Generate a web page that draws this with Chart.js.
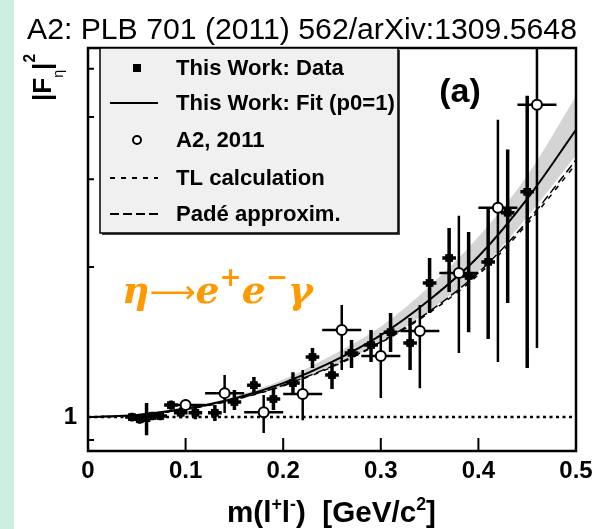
<!DOCTYPE html>
<html>
<head>
<meta charset="utf-8">
<script src="https://cdn.jsdelivr.net/npm/chart.js@4"></script>
<style>
  html, body { margin:0; padding:0; background:#fff; }
  #wrap { width:593px; height:529px; }
</style>
</head>
<body>
<div id="wrap"><canvas id="myChart" width="593" height="529"></canvas></div>
<script>
"use strict";

// curves, every 0.05 GeV
let curveX   = [0, 0.05, 0.1, 0.15, 0.2, 0.25, 0.3, 0.35, 0.4, 0.45, 0.5];
let fitY     = [1.0, 1.01, 1.04, 1.09, 1.17, 1.29, 1.46, 1.72, 2.10, 2.74, 3.77];
let bandUp   = [1.0, 1.012, 1.045, 1.10, 1.19, 1.33, 1.52, 1.83, 2.30, 3.05, 4.40];
let bandLo   = [1.0, 1.008, 1.036, 1.08, 1.155, 1.265, 1.41, 1.64, 1.96, 2.52, 3.35];
let tlY      = [1.0, 1.009, 1.036, 1.083, 1.155, 1.26, 1.41, 1.62, 1.93, 2.44, 3.22];
let padeY    = [1.0, 1.009, 1.037, 1.085, 1.158, 1.265, 1.415, 1.63, 1.95, 2.47, 3.28];

// This Work: Data
let dataX   = [0.045, 0.053, 0.06, 0.066, 0.074, 0.085, 0.095, 0.11, 0.13, 0.15, 0.17, 0.19, 0.21, 0.23, 0.25, 0.27, 0.29, 0.31, 0.33, 0.35, 0.37, 0.39, 0.41, 0.43, 0.45];
let dataY   = [1.0, 0.99, 0.995, 1.005, 1.005, 1.057, 1.02, 1.02, 1.02, 1.072, 1.159, 1.087, 1.17, 1.32, 1.214, 1.345, 1.395, 1.48, 1.408, 1.858, 2.085, 1.919, 2.048, 2.57, 2.83];
let dataLo  = [0.98, 0.97, 0.92, 0.985, 0.985, 1.035, 0.995, 0.99, 0.982, 1.033, 1.117, 1.033, 1.11, 1.254, 1.138, 1.254, 1.29, 1.351, 1.243, 1.618, 1.782, 1.48, 1.434, 1.694, 1.254];
let dataHi  = [1.02, 1.01, 1.067, 1.025, 1.025, 1.08, 1.045, 1.05, 1.057, 1.133, 1.203, 1.14, 1.23, 1.376, 1.284, 1.428, 1.495, 1.617, 1.58, 2.085, 2.396, 2.35, 2.64, 3.44, 4.41];

// A2, 2011
let a2X  = [0.10, 0.14, 0.18, 0.22, 0.26, 0.30, 0.34, 0.38, 0.42, 0.46];
let a2Y  = [1.057, 1.117, 1.023, 1.112, 1.495, 1.326, 1.488, 1.946, 2.63, 4.23];
let a2Lo = [1.03, 1.019, 0.929, 0.986, 1.243, 1.092, 1.143, 1.345, 1.29, 1.376];
let a2Hi = [1.085, 1.214, 1.107, 1.243, 1.678, 1.475, 1.678, 2.533, 3.95, 7.0];
let a2XErr = 0.02;
let dataXErr = 0.007;

let xTickVals = [0, 0.1, 0.2, 0.3, 0.4, 0.5];
let yTickVals = [0.9, 1, 2, 3, 4, 5];

let FONT = "'Liberation Sans', Arial, sans-serif";

function pts(xs, ys) { return xs.map((x, i) => ({x: x, y: ys[i]})); }

function fitFont(ctx, parts, target, base) {
    let w = 0;
    for (let p of parts) { ctx.font = p.style + " " + (p.size * base) + "px " + p.family; w += ctx.measureText(p.t).width; }
    return base * target / w;
}

function drawParts(ctx, parts, x, y, k) {
    for (let p of parts) {
        ctx.font = p.style + " " + (p.size * k) + "px " + p.family;
        ctx.fillText(p.t, x, y + (p.dy || 0) * k);
        x += ctx.measureText(p.t).width;
    }
}

let errorBars = {
    id: "errorBars",
    beforeDatasetDraw(chart, args) {
        let ds = chart.data.datasets[args.index];
        if (!ds.errLo) return;
        let sx = chart.scales.x, sy = chart.scales.y, ctx = chart.ctx, a = chart.chartArea;
        ctx.save();
        ctx.beginPath(); ctx.rect(a.left, a.top, a.right - a.left, a.bottom - a.top); ctx.clip();
        ctx.strokeStyle = "#000";
        ctx.lineWidth = ds.errWidth;
        ds.data.forEach(function (p, i) {
            let px = sx.getPixelForValue(p.x), py = sy.getPixelForValue(p.y);
            ctx.beginPath();
            ctx.moveTo(px, sy.getPixelForValue(ds.errLo[i]));
            ctx.lineTo(px, sy.getPixelForValue(ds.errHi[i]));
            ctx.moveTo(sx.getPixelForValue(p.x - ds.xErr), py);
            ctx.lineTo(sx.getPixelForValue(p.x + ds.xErr), py);
            ctx.stroke();
        });
        ctx.restore();
    }
};

let paper = {
    id: "paper",
    beforeDraw(chart) {
        let ctx = chart.ctx;
        ctx.save();
        ctx.fillStyle = "#fff"; ctx.fillRect(0, 0, chart.width, chart.height);
        ctx.fillStyle = "#cdeee0"; ctx.fillRect(0, 0, 14, chart.height);
        ctx.restore();
    },
    afterDraw(chart) {
        let ctx = chart.ctx, a = chart.chartArea, sx = chart.scales.x, sy = chart.scales.y;
        ctx.save();
        ctx.strokeStyle = "#000"; ctx.fillStyle = "#000";

        // inward ticks
        ctx.lineWidth = 2;
        ctx.beginPath();
        xTickVals.forEach(function (v) {
            if (v <= 0 || v >= 0.5) return;
            let px = sx.getPixelForValue(v);
            ctx.moveTo(px, a.bottom); ctx.lineTo(px, a.bottom - 13);
        });
        yTickVals.forEach(function (v) {
            let py = sy.getPixelForValue(v);
            ctx.moveTo(a.left, py); ctx.lineTo(a.left + (v === 1 ? 9 : 6), py);
        });
        ctx.stroke();

        // frame
        ctx.lineWidth = 2.5;
        ctx.strokeRect(a.left, a.top, a.right - a.left, a.bottom - a.top);

        // legend box
        let lx = 100, ly = a.top, lw = 298, lh = 185;
        ctx.fillStyle = "#444";
        ctx.fillRect(lx + 2, ly + 2, lw, lh);
        ctx.fillStyle = "#f0f0f0";
        ctx.fillRect(lx, ly, lw, lh);
        ctx.lineWidth = 1.5;
        ctx.strokeRect(lx, ly, lw, lh);

        let rows = [68, 103, 140, 178, 214];
        let labels = ["This Work: Data", "This Work: Fit (p0=1)", "A2, 2011", "TL calculation", "Padé approxim."];
        ctx.fillStyle = "#000";
        ctx.fillRect(133, rows[0] - 4, 8, 8);
        ctx.lineWidth = 2;
        ctx.beginPath(); ctx.moveTo(110, rows[1]); ctx.lineTo(158, rows[1]); ctx.stroke();
        ctx.beginPath(); ctx.arc(137, rows[2], 4, 0, 2 * Math.PI); ctx.fillStyle = "#fff"; ctx.fill(); ctx.stroke();
        ctx.lineWidth = 1.8;
        ctx.setLineDash([5, 6]);
        ctx.beginPath(); ctx.moveTo(110, rows[3]); ctx.lineTo(158, rows[3]); ctx.stroke();
        ctx.setLineDash([9, 4]);
        ctx.beginPath(); ctx.moveTo(110, rows[4]); ctx.lineTo(158, rows[4]); ctx.stroke();
        ctx.setLineDash([]);
        ctx.fillStyle = "#000";
        ctx.textBaseline = "middle";
        let lk = fitFont(ctx, [{t: labels[1], style: "bold", size: 1, family: FONT}], 219, 20);
        ctx.font = "bold " + lk + "px " + FONT;
        labels.forEach(function (t, i) { ctx.fillText(t, 176, rows[i] + 1); });

        // (a)
        ctx.textAlign = "center";
        ctx.font = "bold 34px " + FONT;
        ctx.fillText("(a)", 460, 93);

        // title
        ctx.textAlign = "left";
        ctx.textBaseline = "alphabetic";
        let title = [{t: "A2: PLB 701 (2011) 562/arXiv:1309.5648", style: "normal", size: 1, family: FONT}];
        let k = fitFont(ctx, title, 550, 28);
        drawParts(ctx, title, 27, 39, k);

        // x axis title
        let xl = [
            {t: "m(l", style: "bold", size: 1, family: FONT},
            {t: "+", style: "bold", size: 0.6, family: FONT, dy: -0.4},
            {t: "l", style: "bold", size: 1, family: FONT},
            {t: "-", style: "bold", size: 0.6, family: FONT, dy: -0.4},
            {t: ")  [GeV/c", style: "bold", size: 1, family: FONT},
            {t: "2", style: "bold", size: 0.6, family: FONT, dy: -0.4},
            {t: "]", style: "bold", size: 1, family: FONT}
        ];
        k = fitFont(ctx, xl, 209, 26);
        drawParts(ctx, xl, 227, 522, k);

        // y axis title, rotated
        ctx.save();
        ctx.translate(51, 101);
        ctx.rotate(-Math.PI / 2);
        let yl = [
            {t: "|F", style: "bold", size: 1, family: FONT},
            {t: "η", style: "normal", size: 0.55, family: FONT, dy: 0.45},
            {t: "|", style: "bold", size: 1, family: FONT},
            {t: "2", style: "bold", size: 0.6, family: FONT, dy: -0.62}
        ];
        drawParts(ctx, yl, 0, 0, 26);
        ctx.restore();

        // reaction
        ctx.fillStyle = "#ff9900";
        let re = [
            {t: "η", style: "italic bold", size: 1, family: "'DejaVu Serif', serif"},
            {t: "⟶", style: "normal", size: 0.85, family: "'DejaVu Sans', sans-serif"},
            {t: "e", style: "italic bold", size: 1, family: "'DejaVu Serif', serif"},
            {t: "+", style: "bold", size: 0.7, family: "'DejaVu Sans', sans-serif", dy: -0.45},
            {t: "e", style: "italic bold", size: 1, family: "'DejaVu Serif', serif"},
            {t: "−", style: "bold", size: 0.7, family: "'DejaVu Sans', sans-serif", dy: -0.45},
            {t: "γ", style: "italic bold", size: 1, family: "'DejaVu Serif', serif"}
        ];
        k = fitFont(ctx, re, 191, 32);
        drawParts(ctx, re, 122, 303, k);

        ctx.restore();
    }
};

let chart = new Chart(document.getElementById("myChart"), {
    type: "scatter",
    data: {
        datasets: [
            {data: pts(curveX, bandUp), showLine: true, pointRadius: 0, borderWidth: 0, backgroundColor: "#d4d4d4", fill: "+1", cubicInterpolationMode: "monotone", order: 10},
            {data: pts(curveX, bandLo), showLine: true, pointRadius: 0, borderWidth: 0, cubicInterpolationMode: "monotone", order: 10},
            {data: pts([0, 0.5], [1, 1]), showLine: true, pointRadius: 0, borderColor: "#000", borderWidth: 2.5, borderDash: [3, 3.5], order: 9},
            {data: pts(curveX, tlY), showLine: true, pointRadius: 0, borderColor: "#000", borderWidth: 1.5, borderDash: [5, 6], cubicInterpolationMode: "monotone", order: 8},
            {data: pts(curveX, padeY), showLine: true, pointRadius: 0, borderColor: "#000", borderWidth: 1.5, borderDash: [9, 4], cubicInterpolationMode: "monotone", order: 7},
            {data: pts(curveX, fitY), showLine: true, pointRadius: 0, borderColor: "#000", borderWidth: 2, cubicInterpolationMode: "monotone", order: 6},
            {data: pts(dataX, dataY), pointStyle: "rect", pointRadius: 5.5, backgroundColor: "#000", borderColor: "#000", borderWidth: 0,
             errLo: dataLo, errHi: dataHi, xErr: dataXErr, errWidth: 3.5, order: 2},
            {data: pts(a2X, a2Y), pointStyle: "circle", pointRadius: 5, backgroundColor: "#fff", borderColor: "#000", borderWidth: 2,
             errLo: a2Lo, errHi: a2Hi, xErr: a2XErr, errWidth: 2.5, order: 1}
        ]
    },
    options: {
        responsive: false,
        animation: false,
        layout: {padding: {left: 0, right: 17, top: 48, bottom: 0}},
        plugins: {legend: {display: false}, tooltip: {enabled: false}},
        scales: {
            x: {
                type: "linear", min: 0, max: 0.5,
                afterBuildTicks: function (s) { s.ticks = xTickVals.map(v => ({value: v})); },
                afterFit: function (s) { s.height = 78; },
                grid: {display: false}, border: {display: false},
                ticks: {color: "#000", padding: -2, maxRotation: 0, autoSkip: false,
                        font: {family: FONT, size: 24, weight: "bold"},
                        callback: v => (v === 0 ? "0" : v.toFixed(1))}
            },
            y: {
                type: "logarithmic", min: 0.855, max: 5.5,
                afterBuildTicks: function (s) { s.ticks = yTickVals.map(v => ({value: v})); },
                afterFit: function (s) { s.width = 88; },
                grid: {display: false}, border: {display: false},
                ticks: {color: "#000", padding: 3, autoSkip: false,
                        font: {family: FONT, size: 24, weight: "bold"},
                        callback: v => (v === 1 ? "1" : "")}
            }
        }
    },
    plugins: [paper, errorBars]
});
</script>
</body>
</html>
